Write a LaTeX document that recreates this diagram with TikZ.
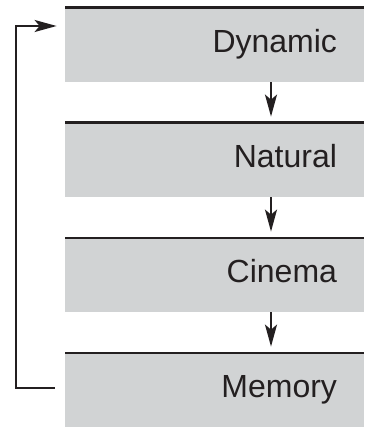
\documentclass[tikz,border=0pt]{standalone}
\usepackage{fontspec}
\setmainfont{Liberation Sans}
\usetikzlibrary{arrows.meta,positioning,calc}
\definecolor{boxgray}{RGB}{209,211,212}
\definecolor{inkblack}{RGB}{35,31,32}

\begin{document}
\begin{tikzpicture}[x=0.5pt, y=-0.5pt,
    mode/.style={fill=boxgray, minimum width=149.5pt, minimum height=37.5pt, inner xsep=13.5pt, text width=122.5pt, align=right, text height=11.5pt, text depth=3.4pt, font=\fontsize{16pt}{19pt}\selectfont, text=inkblack,
        path picture={\draw[inkblack, line width=2pt] (path picture bounding box.north west) -- (path picture bounding box.north east);}},
    arr/.style={-{Stealth[length=11pt, width=6pt, inset=2.5pt]}, line width=1pt, inkblack},
]
\useasboundingbox (0,0) rectangle (364,427);

% Modes
\node[mode] (dyn) at (214.5,44.5) {Dynamic};
\node[mode] (nat) at (214.5,159.5) {Natural};
\node[mode] (cin) at (214.5,274.5) {Cinema};
\node[mode] (mem) at (214.5,389.5) {Memory};

% Sequence arrows
\draw[arr, shorten >=2.5pt] ([xshift=28.25pt]dyn.south) -- ([xshift=28.25pt]nat.north);
\draw[arr, shorten >=2.5pt] ([xshift=28.25pt]nat.south) -- ([xshift=28.25pt]cin.north);
\draw[arr, shorten >=2.5pt] ([xshift=28.25pt]cin.south) -- ([xshift=28.25pt]mem.north);

% Back to the start
\draw[arr] ([xshift=-5pt, yshift=0.75pt]mem.west) -- ++(-39,0) |- ([xshift=-4pt, yshift=9.25pt]dyn.west);
\end{tikzpicture}
\end{document}
